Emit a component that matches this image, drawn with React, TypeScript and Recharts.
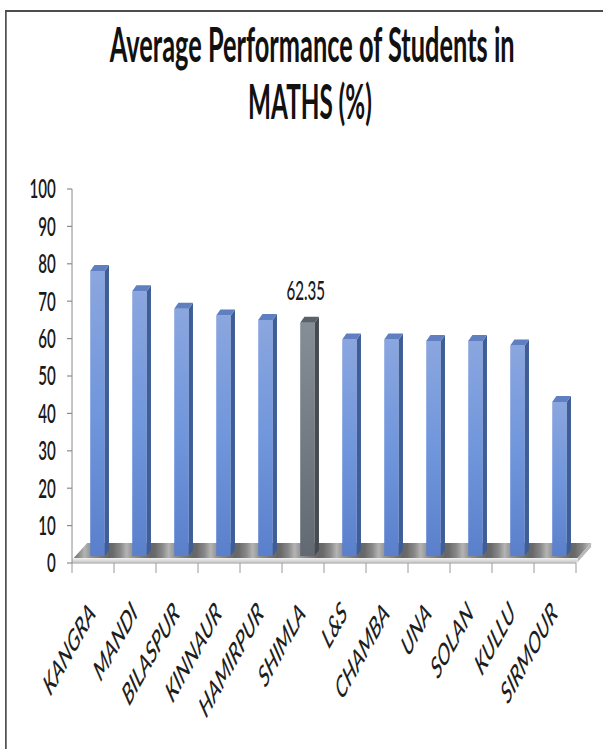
import { BarChart, Bar, XAxis, YAxis, ReferenceArea, LabelList } from 'recharts';

const districts = ['KANGRA', 'MANDI', 'BILASPUR', 'KINNAUR', 'HAMIRPUR', 'SHIMLA', 'L&S', 'CHAMBA', 'UNA', 'SOLAN', 'KULLU', 'SIRMOUR'];
const mathsScores = [76.2, 70.8, 66.1, 64.3, 63.1, 62.35, 57.9, 57.9, 57.5, 57.5, 56.3, 41.2];
const highlighted = 'SHIMLA';
const scoreTicks = [0, 10, 20, 30, 40, 50, 60, 70, 80, 90, 100];

const rows = districts.map((name, i) => ({ name, score: mathsScores[i] }));

// the whole chart is drawn wide and then squeezed horizontally
const SQUASH = 0.56;
const W = 1077;
const H = 749;
const LEFT = 128.6;
const RIGHT = 48.4;
const TOP = 189;
const AXIS_H = 186;
const BAND = (W - LEFT - RIGHT) / districts.length;

const BAR_W = 26;
const SHIFT_X = 8.5;
const SHIFT_Y = 7;
const CAP_X = 7.5;
const CAP_Y = 6;

const FONT = 'Lato, "Open Sans", sans-serif';

const Bar3D = (p: any) => {
  const { x, y, width, height, payload } = p;
  if (height == null || height <= 0) return null;
  const grey = payload.name === highlighted;
  const fx = x + SHIFT_X;
  const fy = y - SHIFT_Y;
  return (
    <g>
      <rect x={fx} y={fy} width={width} height={height} fill={grey ? 'url(#frontGrey)' : 'url(#frontBlue)'} />
      <polygon
        points={`${fx + width},${fy} ${fx + width + CAP_X},${fy - CAP_Y} ${fx + width + CAP_X},${fy - CAP_Y + height} ${fx + width},${fy + height}`}
        fill={grey ? '#464b52' : '#3f5e98'}
      />
      <polygon
        points={`${fx},${fy} ${fx + CAP_X},${fy - CAP_Y} ${fx + width + CAP_X},${fy - CAP_Y} ${fx + width},${fy}`}
        fill={grey ? '#5b6169' : '#5f7fc0'}
      />
    </g>
  );
};

const Floor = (p: any) => {
  const x0 = p.x + 3;
  const x1 = p.x + p.width + 3;
  const yb = p.y + p.height;
  const d = 24;
  return (
    <g>
      <polygon points={`${x0},${yb - 5} ${x0 + d},${yb - 20} ${x1 + d},${yb - 20} ${x1},${yb - 5}`} fill="url(#floorBands)" />
      <polygon points={`${x1},${yb - 5} ${x1 + d},${yb - 20} ${x1 + d},${yb - 16} ${x1},${yb - 1}`} fill="#b8b8b8" />
      <rect x={x0 - 3} y={yb - 5} width={x1 - x0 + 3} height={4.5} fill="url(#floorFront)" />
    </g>
  );
};

const ScoreTick = ({ x, y, payload }: any) => (
  <text x={x} y={y + 9.5} textAnchor="end" fontFamily={FONT} fontWeight={600} fontSize={27} fill="#1a1a1a">
    {payload.value}
  </text>
);

const DistrictTick = ({ x, y, payload, index }: any) => {
  const left = x - BAND / 2;
  return (
    <g>
      <line x1={left} x2={left} y1={y} y2={y + 10} stroke="#9a9a9a" strokeWidth={1.8} />
      {index === districts.length - 1 && (
        <line x1={left + BAND} x2={left + BAND} y1={y} y2={y + 10} stroke="#9a9a9a" strokeWidth={1.8} />
      )}
      <text
        transform={`translate(${x + 6},${y + 52}) rotate(-45)`}
        textAnchor="end"
        fontFamily={FONT}
        fontStyle="italic"
        fontWeight={500}
        fontSize={30}
        fill="#1e1e1e"
      >
        {payload.value}
      </text>
    </g>
  );
};

const ValueLabel = (p: any) => {
  const { x, y, width, value, index } = p;
  if (districts[index] !== highlighted) return null;
  return (
    <text x={x + SHIFT_X + width / 2 - 3} y={y - 30} textAnchor="middle" fontFamily={FONT} fontWeight={500} fontSize={27} fill="#1a1a1a">
      {value}
    </text>
  );
};

export default function App() {
  return (
    <div style={{ position: 'absolute', left: 0, top: 0, width: 603, height: H, overflow: 'hidden', background: '#fff' }}>
      <div style={{ position: 'absolute', left: 0, top: 0, width: W, height: H, transform: `scaleX(${SQUASH})`, transformOrigin: '0 0' }}>
        <div
          style={{
            position: 'absolute',
            left: 8.9,
            top: 10,
            width: 2000,
            height: 2000,
            borderLeft: '3.5px solid #4d4d4d',
            borderTop: '2px solid #4d4d4d',
          }}
        />
        <svg width={W} height={160} style={{ position: 'absolute', left: 0, top: 0 }}>
          <text x={196} y={62} textLength={723} lengthAdjust="spacingAndGlyphs" fontFamily={FONT} fontWeight={700} fontSize={47} fill="#111">
            Average Performance of Students in
          </text>
          <text x={443} y={119} textLength={221} lengthAdjust="spacingAndGlyphs" fontFamily={FONT} fontWeight={700} fontSize={47} fill="#111">
            MATHS (%)
          </text>
        </svg>
        <div style={{ position: 'absolute', left: 0, top: 0 }}>
          <BarChart width={W} height={H} data={rows} margin={{ top: TOP, right: RIGHT, bottom: 0, left: 0 }} barSize={BAR_W}>
            <defs>
              <linearGradient id="frontBlue" x1="0" y1="0" x2="0" y2="1">
                <stop offset="0" stopColor="#8ba6df" />
                <stop offset="0.5" stopColor="#7096dc" />
                <stop offset="1" stopColor="#5a80cc" />
              </linearGradient>
              <linearGradient id="frontGrey" x1="0" y1="0" x2="0" y2="1">
                <stop offset="0" stopColor="#858d96" />
                <stop offset="1" stopColor="#626972" />
              </linearGradient>
              <linearGradient id="floorFront" x1="0" y1="0" x2="0" y2="1">
                <stop offset="0" stopColor="#f2f2f2" />
                <stop offset="1" stopColor="#c8c8c8" />
              </linearGradient>
              <linearGradient id="floorShade" x1="0" y1="0" x2="1" y2="0">
                <stop offset="0" stopColor="#707070" />
                <stop offset="0.15" stopColor="#888888" />
                <stop offset="0.3" stopColor="#b4b4b4" />
                <stop offset="0.45" stopColor="#929292" />
                <stop offset="0.88" stopColor="#666666" />
                <stop offset="1" stopColor="#6c6c6c" />
              </linearGradient>
              <pattern id="floorBands" patternUnits="userSpaceOnUse" x={LEFT} y={0} width={BAND} height={H}>
                <rect x={0} y={0} width={BAND} height={H} fill="url(#floorShade)" />
              </pattern>
            </defs>
            <XAxis
              dataKey="name"
              height={AXIS_H}
              interval={0}
              tickSize={0}
              tickMargin={0}
              tickLine={false}
              axisLine={{ stroke: '#9a9a9a', strokeWidth: 1.2 }}
              tick={<DistrictTick />}
            />
            <YAxis
              width={LEFT}
              domain={[0, 100]}
              ticks={scoreTicks}
              interval={0}
              tickSize={9}
              tickMargin={20}
              tickLine={{ stroke: '#8c8c8c', strokeWidth: 1.2 }}
              axisLine={{ stroke: '#8c8c8c', strokeWidth: 1.8 }}
              tick={<ScoreTick />}
            />
            <ReferenceArea y1={0} y2={1} ifOverflow="visible" shape={(p: any) => <Floor {...p} />} />
            <Bar dataKey="score" isAnimationActive={false} shape={(p: any) => <Bar3D {...p} />}>
              <LabelList dataKey="score" content={(p: any) => <ValueLabel {...p} />} />
            </Bar>
          </BarChart>
        </div>
      </div>
    </div>
  );
}
